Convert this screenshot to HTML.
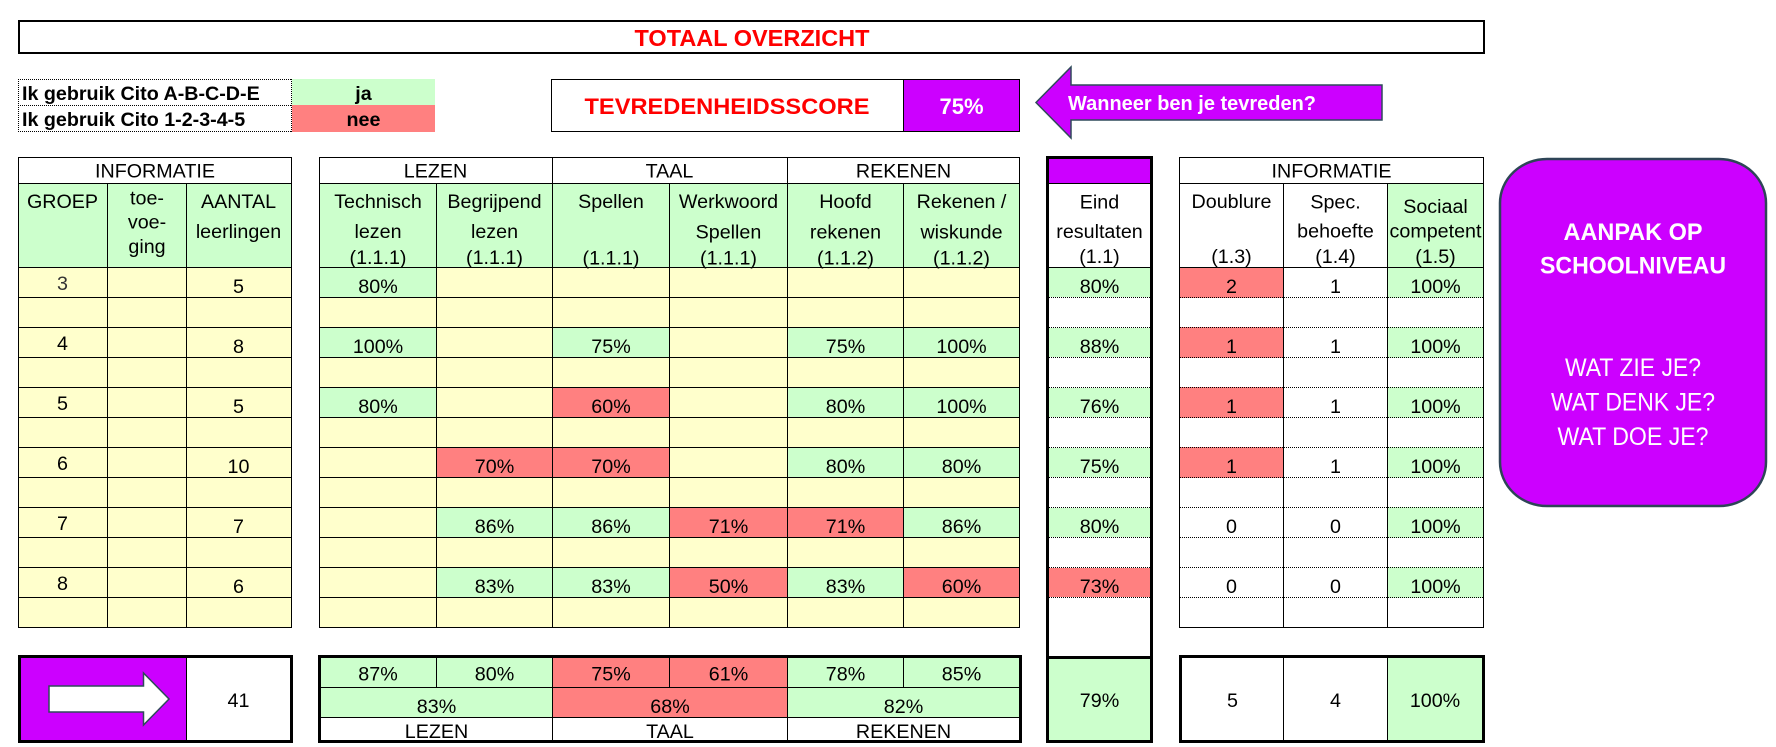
<!DOCTYPE html>
<html><head><meta charset="utf-8"><style>
html,body{margin:0;padding:0;background:#fff;overflow:hidden}
svg{display:block}
text{font-family:"Liberation Sans",Arial,sans-serif;font-size:19.7px}
.m{text-anchor:middle}
.b{font-weight:bold}
</style></head><body>
<svg xmlns="http://www.w3.org/2000/svg" width="1776" height="747" viewBox="0 0 1776 747">
<rect x="0" y="0" width="1776" height="747" fill="#fff"/>

<!-- Title -->
<rect x="18" y="20" width="1467" height="34" fill="#000"/>
<rect x="20" y="22" width="1463" height="30" fill="#fff"/>
<text x="752" y="46" class="m b" style="font-size:23.5px;fill:#ff0000">TOTAAL OVERZICHT</text>

<!-- Cito -->
<rect x="292" y="79" width="143" height="26" fill="#CCFFCC"/>
<rect x="292" y="105" width="143" height="27" fill="#FF8080"/>
<path d="M18 79.5H292M18 105.5H292M18 131.5H292M18.5 79V132M291.5 79V132" stroke="#000" stroke-dasharray="1 1" shape-rendering="crispEdges" fill="none"/>
<text x="22" y="100" class="b">Ik gebruik Cito A-B-C-D-E</text>
<text x="22" y="126" class="b">Ik gebruik Cito 1-2-3-4-5</text>
<text x="363.5" y="100" class="m b">ja</text>
<text x="363.5" y="126" class="m b">nee</text>

<!-- Tevredenheid -->
<rect x="551" y="79" width="469" height="53" fill="#000"/>
<rect x="552" y="80" width="351" height="51" fill="#fff"/>
<rect x="904" y="80" width="115" height="51" fill="#CC00FF"/>
<text x="727" y="114" class="m b" style="font-size:22px;fill:#ff0000" textLength="285" lengthAdjust="spacingAndGlyphs">TEVREDENHEIDSSCORE</text>
<text x="961.5" y="114" class="m b" style="font-size:22px;fill:#fff">75%</text>

<!-- Arrow -->
<polygon points="1036,102.5 1071,67 1071,85 1382,85 1382,120 1071,120 1071,138" fill="#CC00FF" stroke="#2F4A5A" stroke-width="1.5"/>
<text x="1192" y="110" class="m b" style="font-size:20px;fill:#fff" textLength="248" lengthAdjust="spacingAndGlyphs">Wanneer ben je tevreden?</text>

<!-- LEFT INFO TABLE -->
<rect x="18" y="183" width="274" height="84" fill="#CCFFCC"/>
<rect x="18" y="267" width="274" height="361" fill="#FFFFCC"/>
<path d="M18 157.5H292M18 183.5H292M18 267.5H292M18 297.5H292M18 327.5H292M18 357.5H292M18 387.5H292M18 417.5H292M18 447.5H292M18 477.5H292M18 507.5H292M18 537.5H292M18 567.5H292M18 597.5H292M18 627.5H292M18.5 157V628M291.5 157V628M107.5 183V628M186.5 183V628" stroke="#000" shape-rendering="crispEdges" fill="none"/>
<text x="155" y="177.5" class="m">INFORMATIE</text>
<text x="62.5" y="208" class="m">GROEP</text>
<text x="147" y="204.5" class="m">toe-</text>
<text x="147" y="228.5" class="m">voe-</text>
<text x="147" y="253" class="m">ging</text>
<text x="238.5" y="208" class="m">AANTAL</text>
<text x="238.5" y="238" class="m">leerlingen</text>
<text x="62.5" y="290" class="m" style="fill:#333">3</text>
<text x="62.5" y="350" class="m">4</text>
<text x="62.5" y="410" class="m">5</text>
<text x="62.5" y="470" class="m">6</text>
<text x="62.5" y="530" class="m">7</text>
<text x="62.5" y="590" class="m">8</text>
<text x="238.5" y="293" class="m">5</text>
<text x="238.5" y="353" class="m">8</text>
<text x="238.5" y="413" class="m">5</text>
<text x="238.5" y="473" class="m">10</text>
<text x="238.5" y="533" class="m">7</text>
<text x="238.5" y="593" class="m">6</text>

<!-- MID TABLE -->
<rect x="319" y="183" width="701" height="84" fill="#CCFFCC"/>
<rect x="319" y="267" width="701" height="361" fill="#FFFFCC"/>
<!-- colored cells -->
<g>
<rect x="319" y="267" width="118" height="31" fill="#CCFFCC"/>
<rect x="319" y="327" width="118" height="31" fill="#CCFFCC"/>
<rect x="552" y="327" width="118" height="31" fill="#CCFFCC"/>
<rect x="787" y="327" width="117" height="31" fill="#CCFFCC"/>
<rect x="903" y="327" width="117" height="31" fill="#CCFFCC"/>
<rect x="319" y="387" width="118" height="31" fill="#CCFFCC"/>
<rect x="552" y="387" width="118" height="31" fill="#FF8080"/>
<rect x="787" y="387" width="117" height="31" fill="#CCFFCC"/>
<rect x="903" y="387" width="117" height="31" fill="#CCFFCC"/>
<rect x="436" y="447" width="117" height="31" fill="#FF8080"/>
<rect x="552" y="447" width="118" height="31" fill="#FF8080"/>
<rect x="787" y="447" width="117" height="31" fill="#CCFFCC"/>
<rect x="903" y="447" width="117" height="31" fill="#CCFFCC"/>
<rect x="436" y="507" width="117" height="31" fill="#CCFFCC"/>
<rect x="552" y="507" width="118" height="31" fill="#CCFFCC"/>
<rect x="669" y="507" width="119" height="31" fill="#FF8080"/>
<rect x="787" y="507" width="117" height="31" fill="#FF8080"/>
<rect x="903" y="507" width="117" height="31" fill="#CCFFCC"/>
<rect x="436" y="567" width="117" height="31" fill="#CCFFCC"/>
<rect x="552" y="567" width="118" height="31" fill="#CCFFCC"/>
<rect x="669" y="567" width="119" height="31" fill="#FF8080"/>
<rect x="787" y="567" width="117" height="31" fill="#CCFFCC"/>
<rect x="903" y="567" width="117" height="31" fill="#FF8080"/>
</g>
<path d="M319 157.5H1020M319 183.5H1020M319 267.5H1020M319 297.5H1020M319 327.5H1020M319 357.5H1020M319 387.5H1020M319 417.5H1020M319 447.5H1020M319 477.5H1020M319 507.5H1020M319 537.5H1020M319 567.5H1020M319 597.5H1020M319 627.5H1020M319.5 157V628M1019.5 157V628M552.5 157V628M787.5 157V628M436.5 183V628M669.5 183V628M903.5 183V628" stroke="#000" shape-rendering="crispEdges" fill="none"/>
<text x="435.5" y="177.5" class="m">LEZEN</text>
<text x="669.5" y="177.5" class="m">TAAL</text>
<text x="903.5" y="177.5" class="m">REKENEN</text>
<text x="378" y="208" class="m">Technisch</text>
<text x="378" y="238" class="m">lezen</text>
<text x="378" y="264" class="m">(1.1.1)</text>
<text x="494.5" y="208" class="m">Begrijpend</text>
<text x="494.5" y="238" class="m">lezen</text>
<text x="494.5" y="264" class="m">(1.1.1)</text>
<text x="611" y="208" class="m">Spellen</text>
<text x="611" y="264.5" class="m">(1.1.1)</text>
<text x="728.5" y="208" class="m">Werkwoord</text>
<text x="728.5" y="238.5" class="m">Spellen</text>
<text x="728.5" y="264.5" class="m">(1.1.1)</text>
<text x="845.5" y="208" class="m">Hoofd</text>
<text x="845.5" y="238.5" class="m">rekenen</text>
<text x="845.5" y="264.5" class="m">(1.1.2)</text>
<text x="961.5" y="208" class="m">Rekenen /</text>
<text x="961.5" y="238.5" class="m">wiskunde</text>
<text x="961.5" y="264.5" class="m">(1.1.2)</text>
<!-- mid data -->
<text x="378" y="293" class="m">80%</text>
<text x="378" y="353" class="m">100%</text>
<text x="611" y="353" class="m">75%</text>
<text x="845.5" y="353" class="m">75%</text>
<text x="961.5" y="353" class="m">100%</text>
<text x="378" y="413" class="m">80%</text>
<text x="611" y="413" class="m">60%</text>
<text x="845.5" y="413" class="m">80%</text>
<text x="961.5" y="413" class="m">100%</text>
<text x="494.5" y="473" class="m">70%</text>
<text x="611" y="473" class="m">70%</text>
<text x="845.5" y="473" class="m">80%</text>
<text x="961.5" y="473" class="m">80%</text>
<text x="494.5" y="533" class="m">86%</text>
<text x="611" y="533" class="m">86%</text>
<text x="728.5" y="533" class="m">71%</text>
<text x="845.5" y="533" class="m">71%</text>
<text x="961.5" y="533" class="m">86%</text>
<text x="494.5" y="593" class="m">83%</text>
<text x="611" y="593" class="m">83%</text>
<text x="728.5" y="593" class="m">50%</text>
<text x="845.5" y="593" class="m">83%</text>
<text x="961.5" y="593" class="m">60%</text>

<!-- EIND COLUMN -->
<rect x="1046" y="156" width="107" height="587" fill="#000"/>
<rect x="1049" y="159" width="101" height="581" fill="#fff"/>
<rect x="1049" y="159" width="101" height="24" fill="#CC00FF"/>
<rect x="1049" y="268" width="101" height="29" fill="#CCFFCC"/>
<rect x="1049" y="328" width="101" height="29" fill="#CCFFCC"/>
<rect x="1049" y="388" width="101" height="29" fill="#CCFFCC"/>
<rect x="1049" y="448" width="101" height="29" fill="#CCFFCC"/>
<rect x="1049" y="508" width="101" height="29" fill="#CCFFCC"/>
<rect x="1049" y="568" width="101" height="29" fill="#FF8080"/>
<path d="M1049 297.5H1150M1049 327.5H1150M1049 357.5H1150M1049 387.5H1150M1049 417.5H1150M1049 447.5H1150M1049 477.5H1150M1049 507.5H1150M1049 537.5H1150M1049 567.5H1150M1049 597.5H1150" stroke="#000" stroke-dasharray="1 1" shape-rendering="crispEdges" fill="none"/>
<path d="M1049 183.5H1150M1049 267.5H1150" stroke="#000" shape-rendering="crispEdges" fill="none"/>
<rect x="1049" y="656" width="101" height="3" fill="#000"/>
<rect x="1049" y="659" width="101" height="81" fill="#CCFFCC"/>
<text x="1099.5" y="208.5" class="m">Eind</text>
<text x="1099.5" y="238" class="m">resultaten</text>
<text x="1099.5" y="263" class="m">(1.1)</text>
<text x="1099.5" y="293" class="m">80%</text>
<text x="1099.5" y="353" class="m">88%</text>
<text x="1099.5" y="413" class="m">76%</text>
<text x="1099.5" y="473" class="m">75%</text>
<text x="1099.5" y="533" class="m">80%</text>
<text x="1099.5" y="593" class="m">73%</text>
<text x="1099.5" y="707" class="m">79%</text>

<!-- RIGHT INFO TABLE -->
<rect x="1387" y="183" width="97" height="85" fill="#CCFFCC"/>
<rect x="1179" y="267" width="105" height="31" fill="#FF8080"/>
<rect x="1179" y="327" width="105" height="31" fill="#FF8080"/>
<rect x="1179" y="387" width="105" height="31" fill="#FF8080"/>
<rect x="1179" y="447" width="105" height="31" fill="#FF8080"/>
<rect x="1387" y="267" width="97" height="31" fill="#CCFFCC"/>
<rect x="1387" y="327" width="97" height="31" fill="#CCFFCC"/>
<rect x="1387" y="387" width="97" height="31" fill="#CCFFCC"/>
<rect x="1387" y="447" width="97" height="31" fill="#CCFFCC"/>
<rect x="1387" y="507" width="97" height="31" fill="#CCFFCC"/>
<rect x="1387" y="567" width="97" height="31" fill="#CCFFCC"/>
<path d="M1180 297.5H1483M1180 327.5H1483M1180 357.5H1483M1180 387.5H1483M1180 417.5H1483M1180 447.5H1483M1180 477.5H1483M1180 507.5H1483M1180 537.5H1483M1180 567.5H1483M1180 597.5H1483" stroke="#000" stroke-dasharray="1 1" shape-rendering="crispEdges" fill="none"/>
<path d="M1179 157.5H1484M1179 183.5H1484M1179 267.5H1484M1179 627.5H1484M1179.5 157V628M1483.5 157V628M1283.5 183V628M1387.5 183V628" stroke="#000" shape-rendering="crispEdges" fill="none"/>
<text x="1331.5" y="177.5" class="m">INFORMATIE</text>
<text x="1231.5" y="208" class="m">Doublure</text>
<text x="1231.5" y="263" class="m">(1.3)</text>
<text x="1335.5" y="208.5" class="m">Spec.</text>
<text x="1335.5" y="237.5" class="m">behoefte</text>
<text x="1335.5" y="263" class="m">(1.4)</text>
<text x="1435.5" y="213" class="m">Sociaal</text>
<text x="1435.5" y="237.5" class="m">competent</text>
<text x="1435.5" y="263" class="m">(1.5)</text>
<text x="1231.5" y="293" class="m">2</text>
<text x="1231.5" y="353" class="m">1</text>
<text x="1231.5" y="413" class="m">1</text>
<text x="1231.5" y="473" class="m">1</text>
<text x="1231.5" y="533" class="m">0</text>
<text x="1231.5" y="593" class="m">0</text>
<text x="1335.5" y="293" class="m">1</text>
<text x="1335.5" y="353" class="m">1</text>
<text x="1335.5" y="413" class="m">1</text>
<text x="1335.5" y="473" class="m">1</text>
<text x="1335.5" y="533" class="m">0</text>
<text x="1335.5" y="593" class="m">0</text>
<text x="1435.5" y="293" class="m">100%</text>
<text x="1435.5" y="353" class="m">100%</text>
<text x="1435.5" y="413" class="m">100%</text>
<text x="1435.5" y="473" class="m">100%</text>
<text x="1435.5" y="533" class="m">100%</text>
<text x="1435.5" y="593" class="m">100%</text>

<!-- PURPLE ROUNDED BOX -->
<rect x="1500" y="159" width="266" height="347" rx="47" ry="44" fill="#CC00FF" stroke="#2E4557" stroke-width="2.5"/>
<text x="1633" y="240" class="m b" style="font-size:24px;fill:#fff" textLength="139" lengthAdjust="spacingAndGlyphs">AANPAK OP</text>
<text x="1633" y="273.5" class="m b" style="font-size:24px;fill:#fff" textLength="186" lengthAdjust="spacingAndGlyphs">SCHOOLNIVEAU</text>
<text x="1633" y="376" class="m" style="font-size:25px;fill:#fff" textLength="136" lengthAdjust="spacingAndGlyphs">WAT ZIE JE?</text>
<text x="1633" y="410.5" class="m" style="font-size:25px;fill:#fff" textLength="164" lengthAdjust="spacingAndGlyphs">WAT DENK JE?</text>
<text x="1633" y="445" class="m" style="font-size:25px;fill:#fff" textLength="151" lengthAdjust="spacingAndGlyphs">WAT DOE JE?</text>

<!-- BOTTOM LEFT -->
<rect x="18" y="655" width="275" height="88" fill="#000"/>
<rect x="21" y="658" width="165" height="82" fill="#CC00FF"/>
<rect x="187" y="658" width="103" height="82" fill="#fff"/>
<polygon points="49,686 143.5,686 143.5,673 169,699 143.5,725 143.5,712 49,712" fill="#fff" stroke="#2F4A5A" stroke-width="1.5"/>
<text x="238.5" y="707" class="m">41</text>

<!-- BOTTOM MID -->
<rect x="318" y="655" width="704" height="88" fill="#000"/>
<rect x="321" y="658" width="115" height="29" fill="#CCFFCC"/>
<rect x="437" y="658" width="115" height="29" fill="#CCFFCC"/>
<rect x="553" y="658" width="116" height="29" fill="#FF8080"/>
<rect x="670" y="658" width="117" height="29" fill="#FF8080"/>
<rect x="788" y="658" width="115" height="29" fill="#CCFFCC"/>
<rect x="904" y="658" width="115" height="29" fill="#CCFFCC"/>
<rect x="321" y="688" width="231" height="29" fill="#CCFFCC"/>
<rect x="553" y="688" width="234" height="29" fill="#FF8080"/>
<rect x="788" y="688" width="231" height="29" fill="#CCFFCC"/>
<rect x="321" y="718" width="231" height="22" fill="#fff"/>
<rect x="553" y="718" width="234" height="22" fill="#fff"/>
<rect x="788" y="718" width="231" height="22" fill="#fff"/>
<text x="378" y="680.5" class="m">87%</text>
<text x="494.5" y="680.5" class="m">80%</text>
<text x="611" y="680.5" class="m">75%</text>
<text x="728.5" y="680.5" class="m">61%</text>
<text x="845.5" y="680.5" class="m">78%</text>
<text x="961.5" y="680.5" class="m">85%</text>
<text x="436.5" y="713" class="m">83%</text>
<text x="670" y="713" class="m">68%</text>
<text x="903.5" y="713" class="m">82%</text>
<text x="436.5" y="738" class="m">LEZEN</text>
<text x="670" y="738" class="m">TAAL</text>
<text x="903.5" y="738" class="m">REKENEN</text>

<!-- BOTTOM RIGHT -->
<rect x="1179" y="655" width="306" height="88" fill="#000"/>
<rect x="1182" y="658" width="101" height="82" fill="#fff"/>
<rect x="1284" y="658" width="103" height="82" fill="#fff"/>
<rect x="1388" y="658" width="94" height="82" fill="#CCFFCC"/>
<text x="1232.5" y="707" class="m">5</text>
<text x="1335.5" y="707" class="m">4</text>
<text x="1435" y="707" class="m">100%</text>
</svg>
</body></html>
